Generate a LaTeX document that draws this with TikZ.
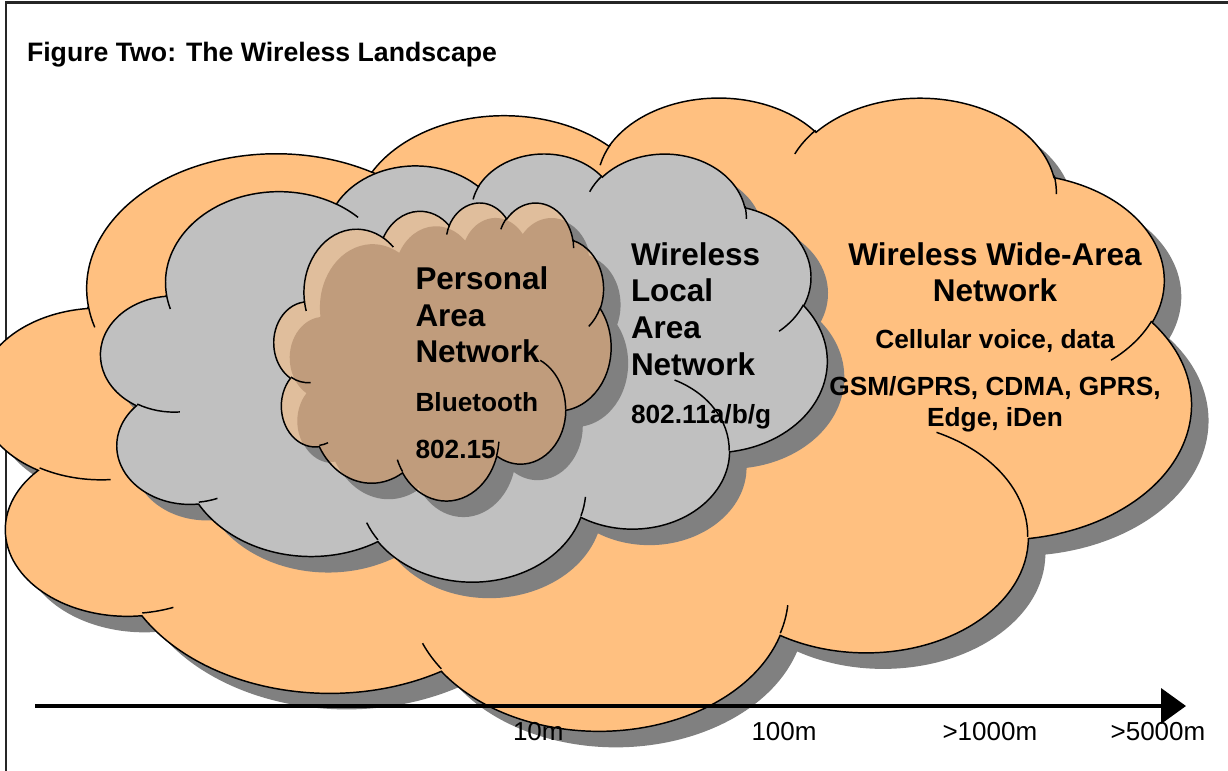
\documentclass[tikz,border=0pt]{standalone}
\usepackage{fontspec}
\setmainfont{Liberation Sans}
\usetikzlibrary{arrows.meta}

\definecolor{wanorange}{RGB}{255,192,128}
\definecolor{langrey}{RGB}{192,192,192}
\definecolor{shadowgrey}{RGB}{128,128,128}
\definecolor{pantan}{RGB}{192,156,124}
\definecolor{panlight}{RGB}{224,190,156}

% One lobe of the cloud: elliptical arc whose start and sweep are given as
% visual angles (degrees, y pointing down); they are turned into the
% parametric angles that TikZ's arc expects.
\newcommand\carc[4]{\pgfextra{%
  \pgfmathsetmacro\cloudA{atan2((#1)*sin(#3),(#2)*cos(#3))}%
  \pgfmathsetmacro\cloudD{mod(atan2((#1)*sin((#3)+(#4)),(#2)*cos((#3)+(#4)))-\cloudA+720,360)}%
  \global\let\cloudA\cloudA\global\let\cloudD\cloudD}%
  arc[x radius=#1, y radius=#2, start angle=\cloudA, delta angle=\cloudD]}

% cloud outline in a 43.2 x 43.2 box
\newcommand\cloudoutline{(3.900,14.370)
  \carc{6.753}{9.190}{-190.4875}{123.7805}
  \carc{5.333}{7.267}{-144.1024}{89.9452}
  \carc{4.365}{5.945}{-145.8079}{99.7230}
  \carc{4.857}{6.595}{-130.9861}{117.2417}
  \carc{5.333}{7.273}{-78.7089}{109.0269}
  \carc{6.775}{9.220}{-46.2673}{130.2690}
  \carc{5.785}{7.867}{0.6250}{114.0333}
  \carc{6.752}{9.215}{22.4516}{115.1726}
  \carc{7.720}{10.543}{66.2426}{75.7110}
  \carc{4.360}{5.918}{-274.9421}{146.7356}
  \carc{4.345}{5.945}{-246.8285}{152.5189}
  -- cycle}

% short inner arcs where the lobes overlap
\newcommand\cloudcreases{
  (4.693,26.177) \carc{4.345}{5.945}{86.7420}{26.4295}
  (6.928,34.899) \carc{4.360}{5.918}{73.6105}{11.4475}
  (16.478,39.090) \carc{6.752}{9.215}{137.6242}{14.0811}
  (28.827,34.751) \carc{6.752}{9.215}{6.4533}{15.9984}
  (34.129,22.954) \carc{5.785}{7.867}{-70.2924}{70.9174}
  (41.798,15.354) \carc{5.333}{7.273}{30.3180}{27.7515}
  (38.324,5.426) \carc{4.857}{6.595}{-13.7443}{14.8589}
  (29.078,3.952) \carc{4.857}{6.595}{-149.1815}{18.1954}
  (22.141,4.720) \carc{4.365}{5.945}{-163.4943}{17.6864}
  (14.000,5.192) \carc{6.753}{9.190}{-66.7070}{12.3194}
  (4.127,15.789) \carc{6.753}{9.190}{157.6544}{11.8582}}

\tikzset{
  wanframe/.style={shift={(-21,96)}, x=21.0417pt, y=-10.9896pt},
  lanframe/.style={shift={(101,152.6)}, x=12.6042pt, y=-7.4306pt},
  panframe/.style={shift={(274,202)}, x=5.8507pt, y=-5.1736pt},
  dropshadow/.style={shift={(17,16)}},
  cloudline/.style={draw=black, line width=1.1pt},
  frameline/.style={draw=black!85, line width=1.6pt},
  axisline/.style={line width=3pt, -{Triangle[length=18.75pt,width=26.25pt]}},
  txt/.style={inner sep=0pt, outer sep=0pt},
  titletext/.style={txt, font=\fontsize{20pt}{24pt}\selectfont\bfseries},
  bigtext/.style={txt, font=\fontsize{23.6pt}{27pt}\selectfont\bfseries},
  smalltext/.style={txt, font=\fontsize{19.7pt}{23.6pt}\selectfont\bfseries},
  scaletext/.style={txt, font=\fontsize{19.5pt}{23.4pt}\selectfont},
}

\begin{document}
\begin{tikzpicture}[x=0.75pt, y=-0.75pt]
\useasboundingbox (0,0) rectangle (1228,771);
\clip (0,0) rectangle (1228,771);
\fill[white] (0,0) rectangle (1228,771);
\draw[frameline] (6,2.5) rectangle (1260,800);

\node[titletext, anchor=base west] (title) at (27,61.7) {Figure Two: The Wireless Landscape};

% wide-area cloud
\begin{scope}[dropshadow]
  \begin{scope}[wanframe]
    \fill[shadowgrey] \cloudoutline;
  \end{scope}
\end{scope}
\begin{scope}[wanframe]
  \fill[wanorange] \cloudoutline;
  \draw[cloudline] \cloudoutline;
  \draw[cloudline] \cloudcreases;
\end{scope}

% local-area cloud
\begin{scope}[dropshadow]
  \begin{scope}[lanframe]
    \fill[shadowgrey] \cloudoutline;
  \end{scope}
\end{scope}
\begin{scope}[lanframe]
  \fill[langrey] \cloudoutline;
  \draw[cloudline] \cloudoutline;
  \draw[cloudline] \cloudcreases;
\end{scope}

% personal-area cloud, with a lighter rim on its upper left
\begin{scope}[dropshadow]
  \begin{scope}[panframe]
    \fill[shadowgrey] \cloudoutline;
  \end{scope}
\end{scope}
\begin{scope}[panframe]
  \fill[panlight] \cloudoutline;
  \begin{scope}
    \clip \cloudoutline;
    \fill[pantan, shift={(2.05,2.17)}] \cloudoutline;
  \end{scope}
  \draw[cloudline] \cloudoutline;
  \draw[cloudline] \cloudcreases;
\end{scope}

% labels inside the clouds
\node[bigtext, anchor=base west] (pan1) at (415.5,289.3) {Personal};
\node[bigtext, anchor=base west] (pan2) at (415.5,326) {Area};
\node[bigtext, anchor=base west] (pan3) at (415.5,362.7) {Network};
\node[smalltext, anchor=base west] (pan4) at (415.5,411.7) {Bluetooth};
\node[smalltext, anchor=base west] (pan5) at (415.5,458.3) {802.15};

\node[bigtext, anchor=base west] (lan1) at (631,265) {Wireless};
\node[bigtext, anchor=base west] (lan2) at (631,301.7) {Local};
\node[bigtext, anchor=base west] (lan3) at (631,338.3) {Area};
\node[bigtext, anchor=base west] (lan4) at (631,375) {Network};
\node[smalltext, anchor=base west] (lan5) at (631,423.3) {802.11a/b/g};

\node[bigtext, anchor=base] (wan1) at (995,265) {Wireless Wide-Area};
\node[bigtext, anchor=base] (wan2) at (995,301.7) {Network};
\node[smalltext, anchor=base] (wan3) at (995,348.3) {Cellular voice, data};
\node[smalltext, anchor=base] (wan4) at (995,395) {GSM/GPRS, CDMA, GPRS,};
\node[smalltext, anchor=base] (wan5) at (995,426.7) {Edge, iDen};

% range axis
\coordinate (axisL) at (35,706);
\coordinate (axisR) at (1186,706);
\draw[axisline] (axisL) -- (axisR);
\node[scaletext, anchor=base west] (r10) at (513,740) {10m};
\node[scaletext, anchor=base west] (r100) at (751.5,740) {100m};
\node[scaletext, anchor=base west] (r1000) at (942.5,740) {>1000m};
\node[scaletext, anchor=base west] (r5000) at (1110.6,740) {>5000m};
\end{tikzpicture}
\end{document}
